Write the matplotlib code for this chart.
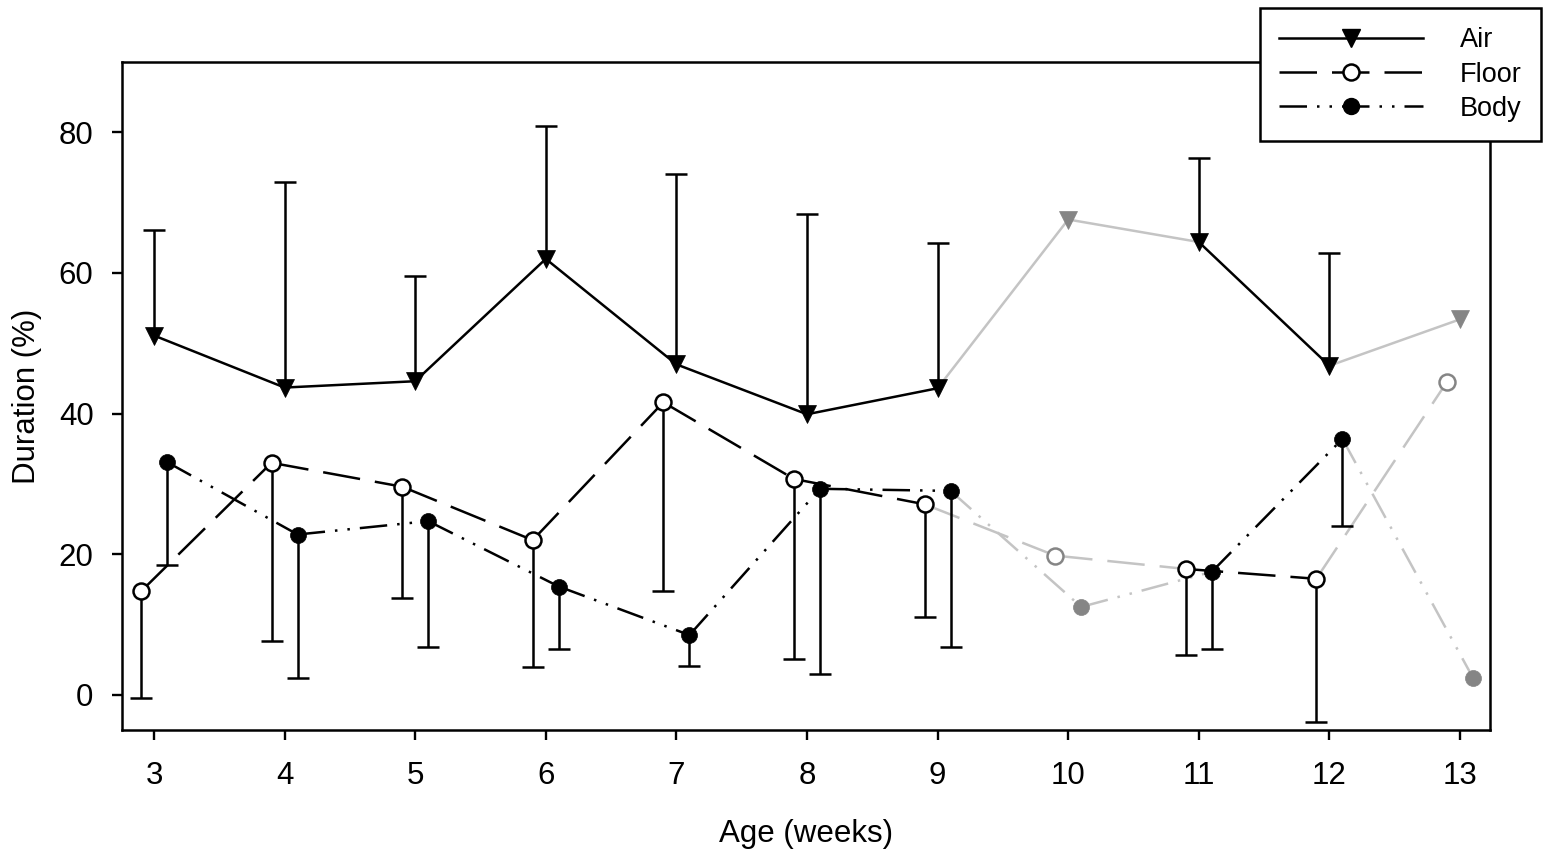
import numpy as np
import matplotlib
matplotlib.use("Agg")
import matplotlib.pyplot as plt
from matplotlib.lines import Line2D

plt.rcParams['font.family'] = ['Liberation Sans', 'DejaVu Sans']

weeks = [3, 4, 5, 6, 7, 8, 9, 10, 11, 12, 13]
air = [51.1, 43.7, 44.6, 62.0, 47.0, 39.9, 43.6, 67.6, 64.4, 46.8, 53.4]
air_hi = [66.1, 73.0, 59.5, 80.9, 74.1, 68.4, 64.2, np.nan, 76.4, 62.8, np.nan]
floor = [14.7, 33.0, 29.6, 22.0, 41.6, 30.7, 27.1, 19.8, 17.9, 16.5, 44.5]
floor_lo = [-0.5, 7.7, 13.8, 3.9, 14.7, 5.1, 11.0, np.nan, 5.7, -3.8, np.nan]
body = [33.1, 22.8, 24.7, 15.4, 8.5, 29.3, 29.0, 12.5, 17.5, 36.4, 2.4]
body_lo = [18.5, 2.4, 6.8, 6.5, 4.1, 2.9, 6.8, np.nan, 6.5, 24.0, np.nan]
is_gray = [False, False, False, False, False, False, False, True, False, False, True]
labels = ["Air", "Floor", "Body"]

BLACK = "black"
GRAY_LINE = "#c4c4c4"
GRAY_MARK = "#858585"
LW = 1.8
FLOOR_LS = (0, (15, 6))
BODY_LS = (0, (11, 4, 1, 4, 1, 4))

fig = plt.figure(figsize=(15.5, 8.6), dpi=100)
ax = fig.add_axes([0.0787, 0.1512, 0.9613 - 0.0787, 0.9279 - 0.1512])

series = [
    (air, air_hi, 0.0, 'v', 13, 'full'),
    (floor, floor_lo, -0.1, 'o', 11.5, 'open'),
    (body, body_lo, 0.1, 'o', 11.5, 'full'),
]
styles = ['-', FLOOR_LS, BODY_LS]

for k, (vals, err, off, mk, ms, fill) in enumerate(series):
    xs = np.array(weeks, dtype=float) + off
    vals = np.array(vals, dtype=float)
    err = np.array(err, dtype=float)
    ls = styles[k]
    for i in range(len(xs) - 1):
        gray = is_gray[i] or is_gray[i + 1]
        ax.plot(xs[i:i + 2], vals[i:i + 2], color=GRAY_LINE if gray else BLACK,
                lw=LW, linestyle=ls, zorder=2, dash_capstyle='butt')
    ok = ~np.isnan(err)
    ax.vlines(xs[ok], np.minimum(vals[ok], err[ok]), np.maximum(vals[ok], err[ok]),
              color=BLACK, lw=LW, zorder=3)
    ax.plot(xs[ok], err[ok], linestyle='none', marker='_', markersize=16,
            markeredgewidth=LW, color=BLACK, zorder=3)
    for i in range(len(xs)):
        c = GRAY_MARK if is_gray[i] else BLACK
        if fill == 'open':
            ax.plot(xs[i], vals[i], marker=mk, markersize=ms, markerfacecolor='white',
                    markeredgecolor=c, markeredgewidth=LW, linestyle='none', zorder=4)
        else:
            ax.plot(xs[i], vals[i], marker=mk, markersize=ms, markerfacecolor=c,
                    markeredgecolor=c, markeredgewidth=0.5, linestyle='none', zorder=4)

ax.set_xlim(2.755, 13.23)
ax.set_ylim(-5, 90)
ax.set_xticks(weeks)
ax.set_yticks([0, 20, 40, 60, 80])
ax.tick_params(direction='out', length=7.5, width=1.7, labelsize=22.5)
ax.tick_params(axis='x', pad=15)
ax.tick_params(axis='y', pad=13)
for sp in ax.spines.values():
    sp.set_linewidth(1.8)
ax.set_xlabel("Age (weeks)", fontsize=22.5, labelpad=20)
ax.set_ylabel("Duration (%)", fontsize=22.5, labelpad=12)

handles = [
    Line2D([], [], color=BLACK, lw=LW, linestyle='-', marker='v', markersize=13,
           markerfacecolor=BLACK, markeredgecolor=BLACK),
    Line2D([], [], color=BLACK, lw=LW, linestyle=FLOOR_LS, marker='o', markersize=11.5,
           markerfacecolor='white', markeredgecolor=BLACK, markeredgewidth=LW),
    Line2D([], [], color=BLACK, lw=LW, linestyle=BODY_LS, marker='o', markersize=11.5,
           markerfacecolor=BLACK, markeredgecolor=BLACK),
]
leg = fig.legend(handles, labels, loc='upper left', bbox_to_anchor=(0.8129, 0.9907),
                 fontsize=19.5, handlelength=5.3, handletextpad=1.35, numpoints=1,
                 labelspacing=0.3, borderpad=0.72, borderaxespad=0, fancybox=False,
                 framealpha=1, edgecolor='black')
leg.get_frame().set_linewidth(1.8)

fig.savefig("out.png", dpi=100)
